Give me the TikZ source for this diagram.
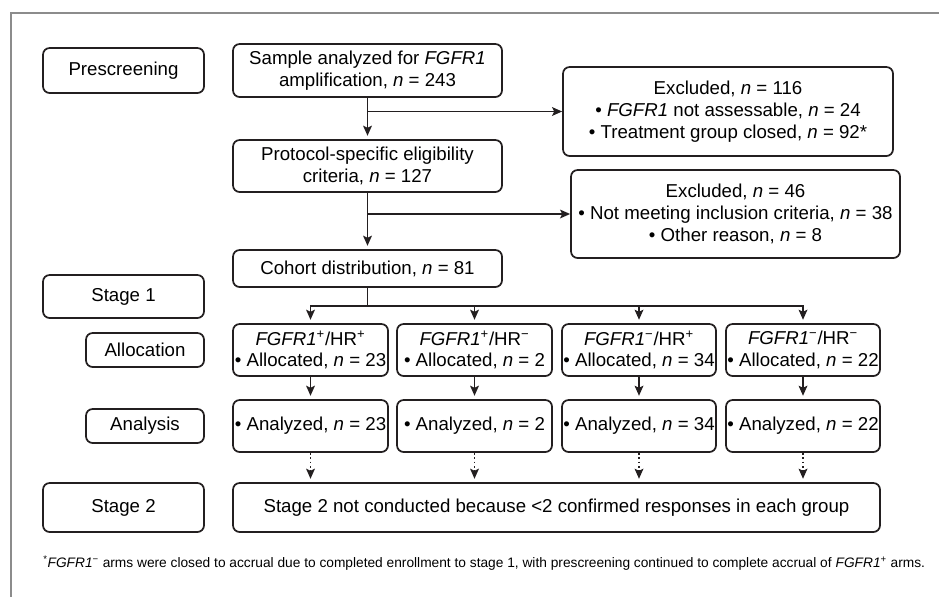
\documentclass[tikz,border=0pt]{standalone}
\usepackage{fontspec}
\setmainfont{Liberation Sans}
\usetikzlibrary{arrows.meta}
\definecolor{ink}{RGB}{35,31,32}
\definecolor{frame}{RGB}{140,140,140}
\newcommand{\px}{*0.75pt}
\newcommand{\nn}{\textit{n} = }
\newcommand{\fg}{\textit{FGFR1}}
\newcommand{\up}[1]{\textsuperscript{#1}}

\begin{document}
\begin{tikzpicture}[x=0.75pt,y=-0.75pt,
    box/.style={draw=ink,line width=1.3pt,rounded corners=5pt,align=center,
      inner sep=0pt,font=\fontsize{14}{16.3}\selectfont},
    flow/.style={draw=ink,line width=1.3pt,-{Stealth[length=7.5pt,width=6.5pt,inset=1.5pt]}},
    gap/.style={shorten >=2.5pt}]
   \useasboundingbox (0,0) rectangle (939,597);
   \draw[frame,line width=1.8pt] (939,13) -- (11,13) -- (11,597);
   % stage labels on the left
   \node[box,minimum width=161\px,minimum height=45\px] (pre) at (123.5,70.5) {Prescreening};
   \node[box,minimum width=161\px,minimum height=43\px] (st1) at (123.5,296.5) {Stage 1};
   \node[box,minimum width=118\px,minimum height=34\px] (alloc) at (145,350) {Allocation};
   \node[box,minimum width=118\px,minimum height=34\px] (anal) at (145,426) {Analysis};
   \node[box,minimum width=161\px,minimum height=49\px] (st2) at (123.5,507.5) {Stage 2};
   % main column
   \node[box,minimum width=269\px,minimum height=53\px] (sample) at (367.5,70.5)
      {Sample analyzed for \fg\\amplification, \nn 243};
   \node[box,minimum width=269\px,minimum height=52\px] (prot) at (367.5,166)
      {Protocol-specific eligibility\\criteria, \nn 127};
   \node[box,minimum width=269\px,minimum height=37\px] (cohort) at (367.5,268.5)
      {Cohort distribution, \nn 81};
   \node[box,minimum width=330\px,minimum height=89\px] (exc1) at (728,111.5)
      {Excluded, \nn 116\\\textbullet\ \fg\ not assessable, \nn 24\\\textbullet\ Treatment group closed, \nn 92*};
   \node[box,minimum width=329\px,minimum height=88\px] (exc2) at (735.5,214)
      {Excluded, \nn 46\\\textbullet\ Not meeting inclusion criteria, \nn 38\\\textbullet\ Other reason, \nn 8};
   % cohorts
   \node[box,minimum width=155\px,minimum height=52\px] (a1) at (310.5,350)
      {\fg\up{+}/HR\up{+}\\\textbullet\ Allocated, \nn 23};
   \node[box,minimum width=155\px,minimum height=52\px] (a2) at (474.5,350)
      {\fg\up{+}/HR\up{−}\\\textbullet\ Allocated, \nn 2};
   \node[box,minimum width=154\px,minimum height=52\px] (a3) at (639,350)
      {\fg\up{−}/HR\up{+}\\\textbullet\ Allocated, \nn 34};
   \node[box,minimum width=154\px,minimum height=52\px] (a4) at (803,350)
      {\fg\up{−}/HR\up{−}\\\textbullet\ Allocated, \nn 22};
   \node[box,minimum width=155\px,minimum height=52\px] (b1) at (310.5,426)
      {\textbullet\ Analyzed, \nn 23};
   \node[box,minimum width=155\px,minimum height=52\px] (b2) at (474.5,426)
      {\textbullet\ Analyzed, \nn 2};
   \node[box,minimum width=154\px,minimum height=52\px] (b3) at (639,426)
      {\textbullet\ Analyzed, \nn 34};
   \node[box,minimum width=154\px,minimum height=52\px] (b4) at (803,426)
      {\textbullet\ Analyzed, \nn 22};
   \node[box,minimum width=647\px,minimum height=49\px] (s2) at (556.5,507.5)
      {Stage 2 not conducted because <2 confirmed responses in each group};
   \node[anchor=west,inner sep=0pt,font=\fontsize{10.3}{12}\selectfont] (note) at (43,563)
      {\up{*}\fg\up{−} arms were closed to accrual due to completed enrollment to stage 1, with prescreening continued to complete accrual of \fg\up{+} arms.};
   % connectors
   \coordinate (split) at (367.5,306);
   \draw[flow,gap] (sample) -- (prot);
   \draw[flow] (sample.south |- exc1.west) -- (exc1.west);
   \draw[flow,gap] (prot) -- (cohort);
   \draw[flow] (prot.south |- exc2.west) -- (exc2.west);
   \draw[ink,line width=1.3pt] (cohort) -- (split);
   \foreach \k in {1,2,3,4} {
     \draw[flow,gap] (split) -| (a\k);
     \draw[flow,gap] (a\k) -- (b\k);
     \draw[flow,gap,dotted] (b\k) -- (b\k.south |- s2.north);
   }
  \end{tikzpicture}
\end{document}
